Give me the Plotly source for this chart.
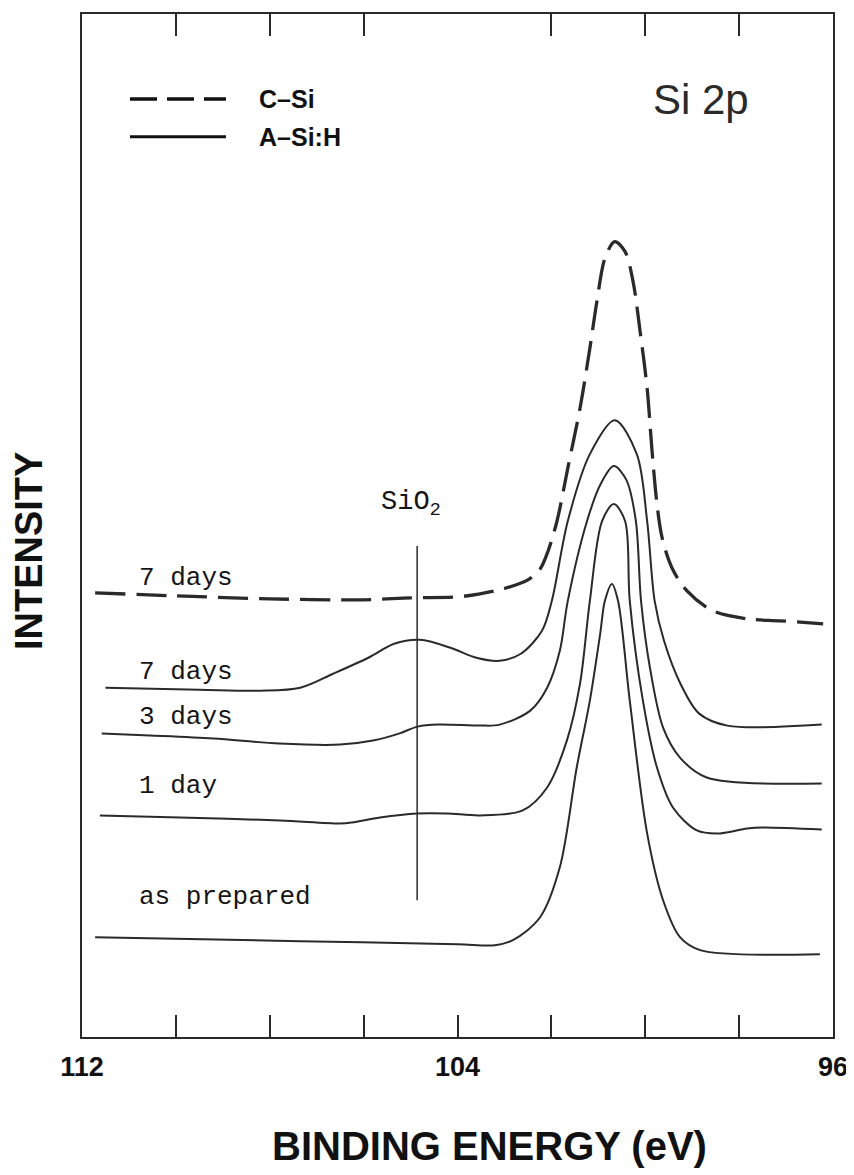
import plotly.graph_objects as go

# ---------------- data (binding energy in eV, intensity in arbitrary units) ----------------
csi_7d_energy = [111.72, 110.0, 108.0, 106.0, 105.0, 104.0, 103.52, 103.03, 102.5, 102.24, 102.07,
                 101.88, 101.65, 101.39, 101.18, 101.03, 100.86, 100.65, 100.43, 100.26, 100.11,
                 99.96, 99.86, 99.75, 99.64, 99.43, 99.11, 98.56, 97.83, 97.13, 96.21]
csi_7d_intensity = [44.5, 44.2, 43.9, 43.8, 44.0, 44.1, 44.4, 44.9, 45.8, 46.9, 48.7,
                    51.7, 57.0, 63.0, 69.0, 73.7, 78.0, 79.7, 78.7, 75.7, 70.7,
                    65.0, 59.0, 53.4, 50.0, 47.0, 44.7, 42.7, 41.9, 41.7, 41.4]

asi_7d_energy = [111.5, 109.5, 108.2, 107.35, 106.65, 105.9, 105.35, 104.8, 104.15, 103.6, 103.1,
                 102.65, 102.2, 101.99, 101.65, 101.18, 100.65, 100.18, 99.96, 99.8, 99.6,
                 99.25, 98.85, 98.25, 96.24]
asi_7d_intensity = [35.0, 34.8, 34.7, 35.0, 36.4, 38.0, 39.4, 39.8, 39.0, 38.0, 37.7,
                    38.4, 40.7, 43.7, 51.7, 58.4, 61.8, 58.4, 51.7, 43.7, 39.7,
                    35.4, 32.4, 31.2, 31.3]

asi_3d_energy = [111.58, 110.55, 109.2, 107.8, 106.5, 105.8, 105.25, 104.85, 104.4, 103.5, 103.1,
                 102.45, 102.09, 101.82, 101.65, 101.24, 100.95, 100.67, 100.4, 100.2, 100.09,
                 99.9, 99.62, 99.26, 98.69, 96.24]
asi_3d_intensity = [30.4, 30.2, 29.9, 29.4, 29.3, 29.7, 30.4, 31.1, 31.3, 31.2, 31.3,
                    32.7, 35.0, 38.7, 43.7, 51.7, 55.4, 57.2, 55.8, 51.7, 43.7,
                    37.0, 31.0, 28.0, 26.0, 25.4]

asi_1d_energy = [111.62, 109.91, 107.78, 106.5, 106.25, 105.65, 104.86, 104.22, 103.52, 102.61,
                 102.09, 101.67, 101.39, 101.18, 100.92, 100.67, 100.43, 100.33, 100.05, 99.75,
                 99.41, 98.9, 98.41, 97.83, 97.49, 96.24]
asi_1d_intensity = [22.2, 22.0, 21.7, 21.4, 21.5, 22.0, 22.4, 22.4, 22.2, 22.7,
                    25.0, 29.7, 35.4, 43.7, 51.7, 53.4, 51.7, 43.7, 33.7, 27.0,
                    23.0, 20.7, 20.4, 20.9, 21.0, 20.8]

asi_0d_energy = [111.72, 107.36, 104.0, 103.2, 102.82, 102.24, 101.82, 101.46, 101.18, 100.96,
                 100.86, 100.71, 100.58, 100.33, 99.96, 99.62, 99.26, 98.83, 96.28]
asi_0d_intensity = [10.0, 9.6, 9.3, 9.2, 9.7, 12.0, 17.0, 27.0, 33.7, 40.4,
                    43.7, 45.4, 43.7, 33.7, 20.4, 13.7, 10.0, 8.7, 8.3]

curve_labels = ["7 days", "7 days", "3 days", "1 day", "as prepared"]
label_energy = 110.83
label_intensity = [46.0, 36.6, 32.1, 25.1, 14.0]

sio2_energy = 104.86
sio2_marker_range = [13.7, 49.2]
sio2_label_energy = 105.0
sio2_label_intensity = 53.4

major_ticks = [112, 104, 96]
major_tick_text = ["112", "104", "96"]
minor_ticks = [110, 108, 106, 102, 100, 98]

# ---------------- figure ----------------
INK = "#2a2a2a"
SANS = "Liberation Sans, Arial, sans-serif"
MONO = "Liberation Mono, Courier New, monospace"

fig = go.Figure()

fig.add_trace(go.Scatter(x=csi_7d_energy, y=csi_7d_intensity, mode="lines",
                         line=dict(color=INK, width=3.3, dash="30px,11px", shape="spline", smoothing=0.9),
                         showlegend=False, hoverinfo="skip"))
for ex, iy in [(asi_7d_energy, asi_7d_intensity), (asi_3d_energy, asi_3d_intensity),
               (asi_1d_energy, asi_1d_intensity), (asi_0d_energy, asi_0d_intensity)]:
    fig.add_trace(go.Scatter(x=ex, y=iy, mode="lines",
                             line=dict(color=INK, width=2, shape="spline", smoothing=0.9),
                             showlegend=False, hoverinfo="skip"))

# SiO2 marker line (on the top x axis, which shares the range)
fig.add_trace(go.Scatter(x=[sio2_energy, sio2_energy], y=sio2_marker_range, mode="lines",
                         xaxis="x2", yaxis="y",
                         line=dict(color=INK, width=1.5), showlegend=False, hoverinfo="skip"))

annotations = []
for txt, yv in zip(curve_labels, label_intensity):
    annotations.append(dict(x=label_energy, y=yv, xref="x", yref="y", text=txt, showarrow=False,
                            xanchor="left", yanchor="middle",
                            font=dict(family=MONO, size=26, color="#151515")))
annotations.append(dict(x=sio2_label_energy, y=sio2_label_intensity, xref="x", yref="y",
                        text="SiO<sub>2</sub>", showarrow=False, xanchor="center", yanchor="middle",
                        font=dict(family=MONO, size=27, color="#151515")))

# legend (drawn manually)
annotations.append(dict(x=0.233, y=0.917, xref="paper", yref="paper", text="<b>C\u2013Si</b>", showarrow=False,
                        xanchor="left", yanchor="middle", font=dict(family=SANS, size=25, color="#111")))
annotations.append(dict(x=0.233, y=0.880, xref="paper", yref="paper", text="<b>A\u2013Si:H</b>", showarrow=False,
                        xanchor="left", yanchor="middle", font=dict(family=SANS, size=25, color="#111")))
shapes = [
    dict(type="line", xref="paper", yref="paper", x0=0.0639, x1=0.1917, y0=0.917, y1=0.917,
         line=dict(color="#111", width=3.5, dash="27px,10px")),
    dict(type="line", xref="paper", yref="paper", x0=0.0639, x1=0.1917, y0=0.880, y1=0.880,
         line=dict(color="#111", width=3)),
]

annotations.append(dict(x=0.824, y=0.916, xref="paper", yref="paper", text="Si 2p", showarrow=False,
                        xanchor="center", yanchor="middle", font=dict(family=SANS, size=42, color=INK)))

annotations.append(dict(x=-0.0706, y=0.475, xref="paper", yref="paper", text="<b>INTENSITY</b>",
                        showarrow=False, textangle=-90, xanchor="center", yanchor="middle",
                        font=dict(family=SANS, size=38, color="#111")))
annotations.append(dict(x=0.542, y=-0.107, xref="paper", yref="paper", text="<b>BINDING ENERGY (eV)</b>",
                        showarrow=False, xanchor="center", yanchor="middle",
                        font=dict(family=SANS, size=40, color="#111")))

# the page body has an 8px margin, so the figure is smaller and margins are shifted
fig.update_layout(
    width=846, height=1167,
    margin=dict(l=74, r=21, t=4, b=138),
    paper_bgcolor="white", plot_bgcolor="white",
    annotations=annotations, shapes=shapes,
    showlegend=False,
)
fig.update_layout(
    xaxis=dict(range=[112, 96], tickvals=major_ticks, ticktext=major_tick_text,
               ticks="inside", ticklen=22, tickwidth=2, tickcolor=INK,
               minor=dict(tickvals=minor_ticks, ticks="inside", ticklen=22, tickwidth=2, tickcolor=INK),
               showline=True, linewidth=2, linecolor=INK, mirror=True,
               showgrid=False, zeroline=False, ticklabelstandoff=5,
               tickfont=dict(family=SANS, size=27, color="#111", weight="bold")),
    xaxis2=dict(range=[112, 96], overlaying="x", side="top", anchor="y",
                tickvals=minor_ticks, ticks="inside", ticklen=22, tickwidth=2, tickcolor=INK,
                showticklabels=False, showline=False, showgrid=False, zeroline=False),
    yaxis=dict(range=[0, 102.5], showticklabels=False, ticks="",
               showline=True, linewidth=2, linecolor=INK, mirror=True,
               showgrid=False, zeroline=False),
)

fig.write_html("out.html")
